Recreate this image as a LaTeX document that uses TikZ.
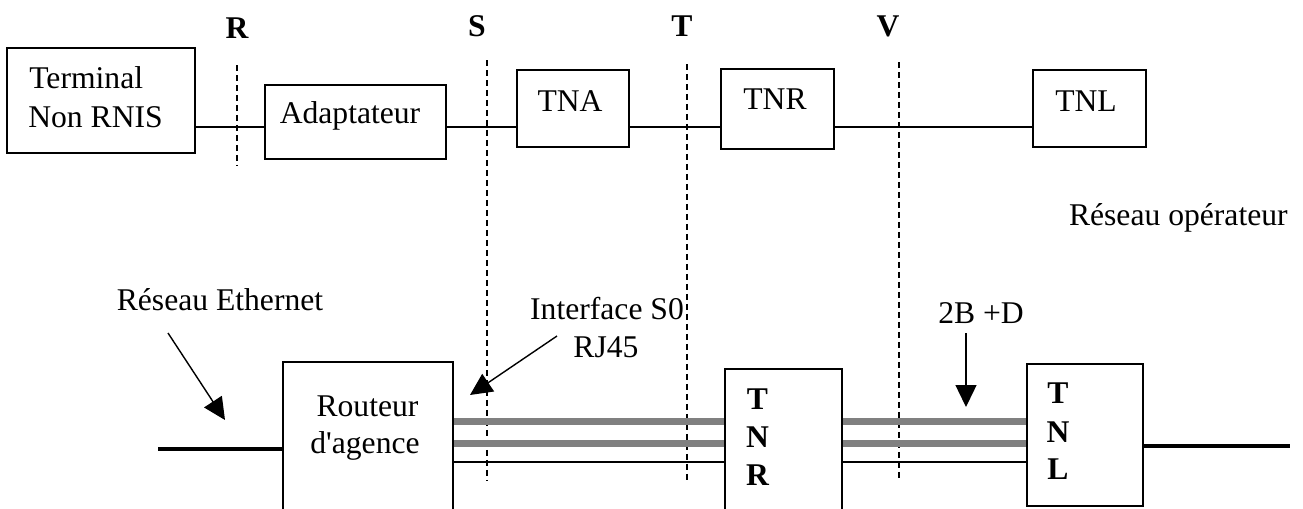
\documentclass[tikz,border=0pt]{standalone}
\usepackage{fontspec}
\setmainfont{Liberation Serif}
\usetikzlibrary{arrows.meta}
\begin{document}
\begin{tikzpicture}[x=0.02cm,y=-0.02cm,
  box/.style={draw,line width=0.9pt,inner sep=0pt},
  txt/.style={inner sep=0pt,anchor=base,font=\fontsize{18}{21}\selectfont},
  btxt/.style={inner sep=0pt,anchor=base,font=\fontsize{18}{21}\selectfont\bfseries},
  refline/.style={line width=0.8pt,dash pattern=on 0.12cm off 0.08cm},
  wire/.style={line width=0.75pt},
  bus/.style={line width=0.14cm,draw=black!50},
  trunk/.style={line width=0.09cm},
  pointer/.style={line width=0.8pt,-{Triangle[length=0.44cm,width=0.42cm]}},
]
\useasboundingbox (0,0) rectangle (1303,508);
\clip (0,0) rectangle (1303,508);

% ---- reference point labels ----
\node[btxt] (Rl) at (237,38) {R};
\node[btxt] (Sl) at (477,36) {S};
\node[btxt] (Tl) at (682,36) {T};
\node[btxt] (Vl) at (888,36) {V};

% ---- reference point separators ----
\coordinate (r1) at (237,65);  \coordinate (r2) at (237,165);
\coordinate (s1) at (487,60);  \coordinate (s2) at (487,480);
\coordinate (t1) at (687,64);  \coordinate (t2) at (687,480);
\coordinate (v1) at (899,62);  \coordinate (v2) at (899,480);
\draw[refline] (r1) -- (r2);
\draw[refline] (s1) -- (s2);
\draw[refline] (t1) -- (t2);
\draw[refline] (v1) -- (v2);

% ---- upper chain ----
\node[box,minimum width=3.76cm,minimum height=2.10cm] (term) at (101,100.5) {};
\node[box,minimum width=3.62cm,minimum height=1.48cm] (adapt) at (355.5,122) {};
\node[box,minimum width=2.24cm,minimum height=1.54cm] (tna) at (573,108.5) {};
\node[box,minimum width=2.26cm,minimum height=1.60cm] (tnr) at (777.5,109) {};
\node[box,minimum width=2.26cm,minimum height=1.54cm] (tnl) at (1089.5,108.5) {};

\node[txt,anchor=base west] (termA) at (29,88) {Terminal};
\node[txt,anchor=base west] (termB) at (28,127) {Non RNIS};
\node[txt] (adaptT) at (350,123) {Adaptateur};
\node[txt] (tnaT) at (570,111) {TNA};
\node[txt] (tnrT) at (775,109) {TNR};
\node[txt] (tnlT) at (1086,111) {TNL};

\coordinate (row) at (0,127);
\draw[wire] (term.east |- row) -- (adapt.west |- row);
\draw[wire] (adapt.east |- row) -- (tna.west |- row);
\draw[wire] (tna.east |- row) -- (tnr.west |- row);
\draw[wire] (tnr.east |- row) -- (tnl.west |- row);

\node[txt,anchor=base east] (oper) at (1288,225) {Réseau opérateur};

% ---- lower installation ----
\node[box,minimum width=3.40cm,minimum height=3.56cm] (router) at (368,451) {};
\node[box,minimum width=2.34cm,minimum height=3.42cm] (tnrb) at (783.5,454.5) {};
\node[box,minimum width=2.32cm,minimum height=2.84cm] (tnlb) at (1085,435) {};

\node[txt] (routA) at (367.5,416) {Routeur};
\node[txt] (routB) at (365,453) {d\textquotesingle agence};

\node[btxt] (tnrb1) at (757.5,409) {T};
\node[btxt] (tnrb2) at (757.5,447) {N};
\node[btxt] (tnrb3) at (757.5,485) {R};
\node[btxt] (tnlb1) at (1058,403) {T};
\node[btxt] (tnlb2) at (1058,442) {N};
\node[btxt] (tnlb3) at (1058,479) {L};

% Ethernet side
\coordinate (eth) at (158,449);
\draw[trunk] (eth) -- (eth -| router.west);

% S0 bus and line towards the local exchange
\coordinate (b1) at (0,421);
\coordinate (b2) at (0,443);
\coordinate (b3) at (0,462);
\draw[bus] (router.east |- b1) -- (tnrb.west |- b1);
\draw[bus] (router.east |- b2) -- (tnrb.west |- b2);
\draw[wire] (router.east |- b3) -- (tnrb.west |- b3);
\draw[bus] (tnrb.east |- b1) -- (tnlb.west |- b1);
\draw[bus] (tnrb.east |- b2) -- (tnlb.west |- b2);
\draw[wire] (tnrb.east |- b3) -- (tnlb.west |- b3);

\coordinate (net) at (1290,446);
\draw[trunk] (tnlb.east |- net) -- (net);

% ---- annotations ----
\node[txt] (ethT) at (220,310) {Réseau Ethernet};
\coordinate (ethA) at (168,333);
\coordinate (ethB) at (225,420);
\draw[pointer] (ethA) -- (ethB);

\node[txt] (s0A) at (607,319) {Interface S0};
\node[txt] (s0B) at (606,357) {RJ45};
\coordinate (s0a) at (557,336);
\coordinate (s0b) at (470,395);
\draw[pointer] (s0a) -- (s0b);

\node[txt] (bdT) at (981,323) {2B +D};
\coordinate (bda) at (966,333);
\coordinate (bdb) at (966,407);
\draw[pointer] (bda) -- (bdb);
\end{tikzpicture}
\end{document}
